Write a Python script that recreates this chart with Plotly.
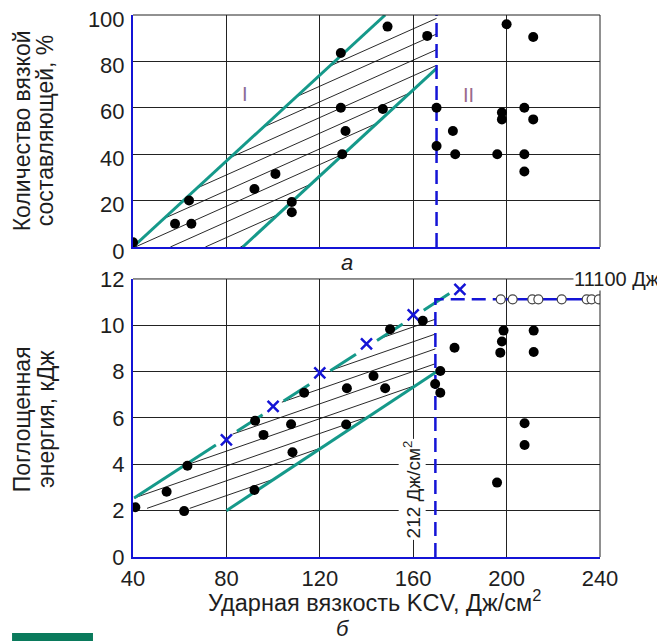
import numpy as np
import plotly.graph_objects as go

# ---------------- panel "а": share of ductile component, % ----------------
a_x = [40, 58, 65, 64, 92, 101, 108, 108, 129, 129, 129.6, 131, 147, 149, 166,
       170, 170, 177, 178, 200, 211.4, 198, 198, 207.6, 211.4, 196, 207.6, 207.6]
a_y = [2, 10, 10, 20, 25, 31.5, 19.4, 15, 83.6, 60, 40, 50, 59.5, 95, 91,
       60, 43.5, 50, 40, 96, 90.5, 58, 55, 60, 55, 40, 40, 32.5]
a_upper_x = [40, 148]      # upper teal boundary
a_upper_y = [0, 100]
a_lower_x = [87, 170]      # lower teal boundary
a_lower_y = [0, 77]
a_limit_x = 170            # vertical dashed limit
a_hatch_slope = 0.45
a_hatch_x0 = [-49, -34, -19, -4, 11, 26, 41, 56, 71, 86]   # x-intercepts of hatch lines

# ---------------- panel "б": absorbed energy, kJ ----------------
b_x = [41, 54.4, 61.9, 63.3, 92.3, 95.9, 92, 107.7, 108.3, 113.3, 150.1, 164.1,
       143, 131.6, 148, 131.3, 171.6, 169.4, 171.6, 177.7, 198.7, 198, 197.3,
       211.6, 211.6, 207.7, 207.7, 195.9]
b_y = [2.15, 2.82, 1.98, 3.94, 5.88, 5.27, 2.89, 5.73, 4.52, 7.09, 9.83, 10.2,
       7.81, 7.28, 7.28, 5.72, 8.03, 7.47, 7.09, 9.03, 9.77, 9.3, 8.82,
       9.77, 8.85, 5.77, 4.83, 3.21]
cross_x = [80, 100, 120, 140, 160, 180]
cross_y = [5.05, 6.5, 7.95, 9.2, 10.45, 11.55]
ring_x = [197.5, 202.6, 211, 213.6, 223.6, 234.3, 236.4, 239.5]
ring_y = [11.12] * len(ring_x)
b_upper_x = [40.5, 176]
b_upper_y = [2.55, 11.4]
b_lower_x = [80, 170]
b_lower_y = [2.0, 8.0]
b_base_y = 2.1
b_limit_x = 169.5
b_plateau_y = 11.12
b_plateau_solid_from = 196
b_hatch_slope = 0.035
b_hatch_b = [0.61, 1.25, 1.89, 2.53, 3.17, 3.81, 4.45, 5.09, 5.73]  # value at x=40

TEAL = "#15998a"
BLUE = "#1414d6"
GRID = "#222222"
TXT = "#1e1e1e"
FONT = "Liberation Sans, Arial, sans-serif"


def line_coef(xs, ys):
    q = (ys[1] - ys[0]) / (xs[1] - xs[0])
    return ys[0] - q * xs[0], q  # intercept p, slope q


def hatch(slope, intercepts, cons, xmin, xmax):
    """intercepts: value of hatch line at x=0. cons: list of (p, q, sign):
    sign=+1 means hatch >= p+q x, -1 means hatch <= p+q x."""
    X, Y = [], []
    for b in intercepts:
        lo, hi = xmin, xmax
        ok = True
        for p, q, sg in cons:
            A = sg * (b - p)
            B = sg * (slope - q)
            if abs(B) < 1e-12:
                if A < 0:
                    ok = False
            elif B > 0:
                lo = max(lo, -A / B)
            else:
                hi = min(hi, -A / B)
        if ok and hi > lo:
            X += [lo, hi, None]
            Y += [b + slope * lo, b + slope * hi, None]
    return X, Y


fig = go.Figure()

# ---- panel а ----
pu, qu = line_coef(a_upper_x, a_upper_y)
pl, ql = line_coef(a_lower_x, a_lower_y)
ints = [-a_hatch_slope * c for c in a_hatch_x0]
hx, hy = hatch(a_hatch_slope, ints,
               [(0, 0, 1), (100, 0, -1), (pu, qu, -1), (pl, ql, 1)],
               40, a_limit_x)
fig.add_trace(go.Scatter(x=hx, y=hy, mode="lines", line=dict(color="#111", width=0.9),
                         xaxis="x", yaxis="y", hoverinfo="skip"))
fig.add_trace(go.Scatter(x=a_upper_x, y=a_upper_y, mode="lines",
                         line=dict(color=TEAL, width=3), xaxis="x", yaxis="y"))
fig.add_trace(go.Scatter(x=a_lower_x, y=a_lower_y, mode="lines",
                         line=dict(color=TEAL, width=3), xaxis="x", yaxis="y"))
fig.add_trace(go.Scatter(x=[a_limit_x, a_limit_x], y=[0, 100], mode="lines",
                         line=dict(color=BLUE, width=2.5, dash="14px,7px"),
                         xaxis="x", yaxis="y"))
fig.add_trace(go.Scatter(x=a_x, y=a_y, mode="markers",
                         marker=dict(color="black", size=10), xaxis="x", yaxis="y"))

# ---- panel б ----
pu2, qu2 = line_coef(b_upper_x, b_upper_y)
pl2, ql2 = line_coef(b_lower_x, b_lower_y)
ints2 = [b - b_hatch_slope * 40 for b in b_hatch_b]
hx2, hy2 = hatch(b_hatch_slope, ints2,
                 [(b_base_y, 0, 1), (pu2, qu2, -1), (pl2, ql2, 1)],
                 40, b_limit_x)
fig.add_trace(go.Scatter(x=hx2, y=hy2, mode="lines", line=dict(color="#111", width=0.9),
                         xaxis="x2", yaxis="y2", hoverinfo="skip"))
# upper teal line broken around the crosses
gap = 4.5
edges = [b_upper_x[0]]
for cx in cross_x:
    if b_upper_x[0] < cx < b_upper_x[1] + gap:
        edges += [cx - gap, cx + gap]
edges.append(b_upper_x[1])
sx, sy = [], []
for i in range(0, len(edges) - 1, 2):
    x0, x1 = edges[i], min(edges[i + 1], b_upper_x[1])
    if x1 > x0:
        sx += [x0, x1, None]
        sy += [pu2 + qu2 * x0, pu2 + qu2 * x1, None]
fig.add_trace(go.Scatter(x=sx, y=sy, mode="lines", line=dict(color=TEAL, width=3),
                         xaxis="x2", yaxis="y2"))
fig.add_trace(go.Scatter(x=b_lower_x, y=b_lower_y, mode="lines",
                         line=dict(color=TEAL, width=3), xaxis="x2", yaxis="y2"))
fig.add_trace(go.Scatter(x=[b_limit_x, b_limit_x, b_plateau_solid_from],
                         y=[0, b_plateau_y, b_plateau_y], mode="lines",
                         line=dict(color=BLUE, width=2.5, dash="14px,7px"),
                         xaxis="x2", yaxis="y2"))
fig.add_trace(go.Scatter(x=[b_plateau_solid_from, 240], y=[b_plateau_y, b_plateau_y],
                         mode="lines", line=dict(color=BLUE, width=2.5),
                         xaxis="x2", yaxis="y2"))
fig.add_trace(go.Scatter(x=ring_x, y=ring_y, mode="markers",
                         marker=dict(color="white", size=9,
                                     line=dict(color="#444", width=1.2)),
                         xaxis="x2", yaxis="y2"))
fig.add_trace(go.Scatter(x=cross_x, y=cross_y, mode="markers",
                         marker=dict(symbol="x-thin", size=11, color=BLUE,
                                     line=dict(color=BLUE, width=2.5)),
                         xaxis="x2", yaxis="y2"))
fig.add_trace(go.Scatter(x=b_x, y=b_y, mode="markers",
                         marker=dict(color="black", size=10), xaxis="x2", yaxis="y2"))

axis_common = dict(showgrid=True, gridcolor=GRID, gridwidth=1, showline=True,
                   linecolor=BLUE, linewidth=2, zeroline=False, ticks="",
                   automargin=False, ticklabeloverflow="allow",
                   tickfont=dict(size=22, color=TXT, family=FONT))
# the page body adds an 8px offset, so the figure is 8px smaller than the window
fig.update_layout(
    width=657, height=633,
    margin=dict(l=125, r=65, t=7, b=84, autoexpand=False),
    paper_bgcolor="white", plot_bgcolor="white",
    showlegend=False,
    font=dict(family=FONT, color=TXT),
    xaxis=dict(domain=[0, 1], anchor="y", range=[40, 240], tick0=40, dtick=40,
               showticklabels=False, **axis_common),
    yaxis=dict(domain=[0.572, 1], anchor="x", range=[0, 100], tick0=0, dtick=20,
               ticklabelstandoff=2, ticklabelshift=4, **axis_common),
    xaxis2=dict(domain=[0, 1], anchor="y2", range=[40, 240], tick0=40, dtick=40,
                ticklabelstandoff=1, **axis_common),
    yaxis2=dict(domain=[0, 0.513], anchor="x2", range=[0, 12], tick0=0, dtick=2,
                ticklabelstandoff=2, **axis_common),
)

# black top/right borders
for xr, yr in (("x domain", "y domain"), ("x2 domain", "y2 domain")):
    fig.add_shape(type="line", xref=xr, yref=yr, x0=0, x1=1, y0=1, y1=1,
                  line=dict(color=GRID, width=1))
    fig.add_shape(type="line", xref=xr, yref=yr, x0=1, x1=1, y0=0, y1=1,
                  line=dict(color=GRID, width=1))

# decorative green block bottom-left
fig.add_shape(type="rect", xref="paper", yref="paper", x0=-0.259, x1=-0.0857,
              y0=-0.16, y1=-0.140, line=dict(width=0), fillcolor="#0a7a5c")

ann = [
    dict(text="Количество вязкой", xref="paper", yref="paper",
         x=-0.237, y=0.786, textangle=-90, font=dict(size=23)),
    dict(text="составляющей, %", xref="paper", yref="paper",
         x=-0.188, y=0.786, textangle=-90, font=dict(size=23)),
    dict(text="Поглощенная", xref="paper", yref="paper",
         x=-0.239, y=0.255, textangle=-90, font=dict(size=23)),
    dict(text="энергия, кДж", xref="paper", yref="paper",
         x=-0.186, y=0.255, textangle=-90, font=dict(size=23)),
    dict(text="Ударная вязкость KCV, Дж/см<sup>2</sup>", xref="paper", yref="paper",
         x=0.518, y=-0.081, font=dict(size=23.5)),
    dict(text="<i>б</i>", xref="paper", yref="paper", x=0.45, y=-0.131,
         font=dict(size=22)),
    dict(text="<i>а</i>", xref="paper", yref="paper", x=0.458, y=0.544,
         font=dict(size=22)),
    dict(text="I", xref="x", yref="y", x=88, y=66, font=dict(size=20, color="#8a6c98")),
    dict(text="II", xref="x", yref="y", x=183.6, y=65.5,
         font=dict(size=20, color="#9a6a8c")),
    dict(text="212 Дж/см<sup>2</sup>", xref="x2", yref="y2", x=159.6, y=2.93,
         textangle=-90, bgcolor="white", borderpad=1, font=dict(size=19)),
]
for a in ann:
    a.setdefault("showarrow", False)
    a.setdefault("xanchor", "center")
    a.setdefault("yanchor", "middle")
    fig.add_annotation(**a)
fig.add_annotation(text="11100 Дж", xref="paper", yref="y2", x=0.942, y=12.0,
                   xanchor="left", yanchor="middle", showarrow=False,
                   bgcolor="white", borderpad=0, font=dict(size=20))

fig.write_html("out.html")
